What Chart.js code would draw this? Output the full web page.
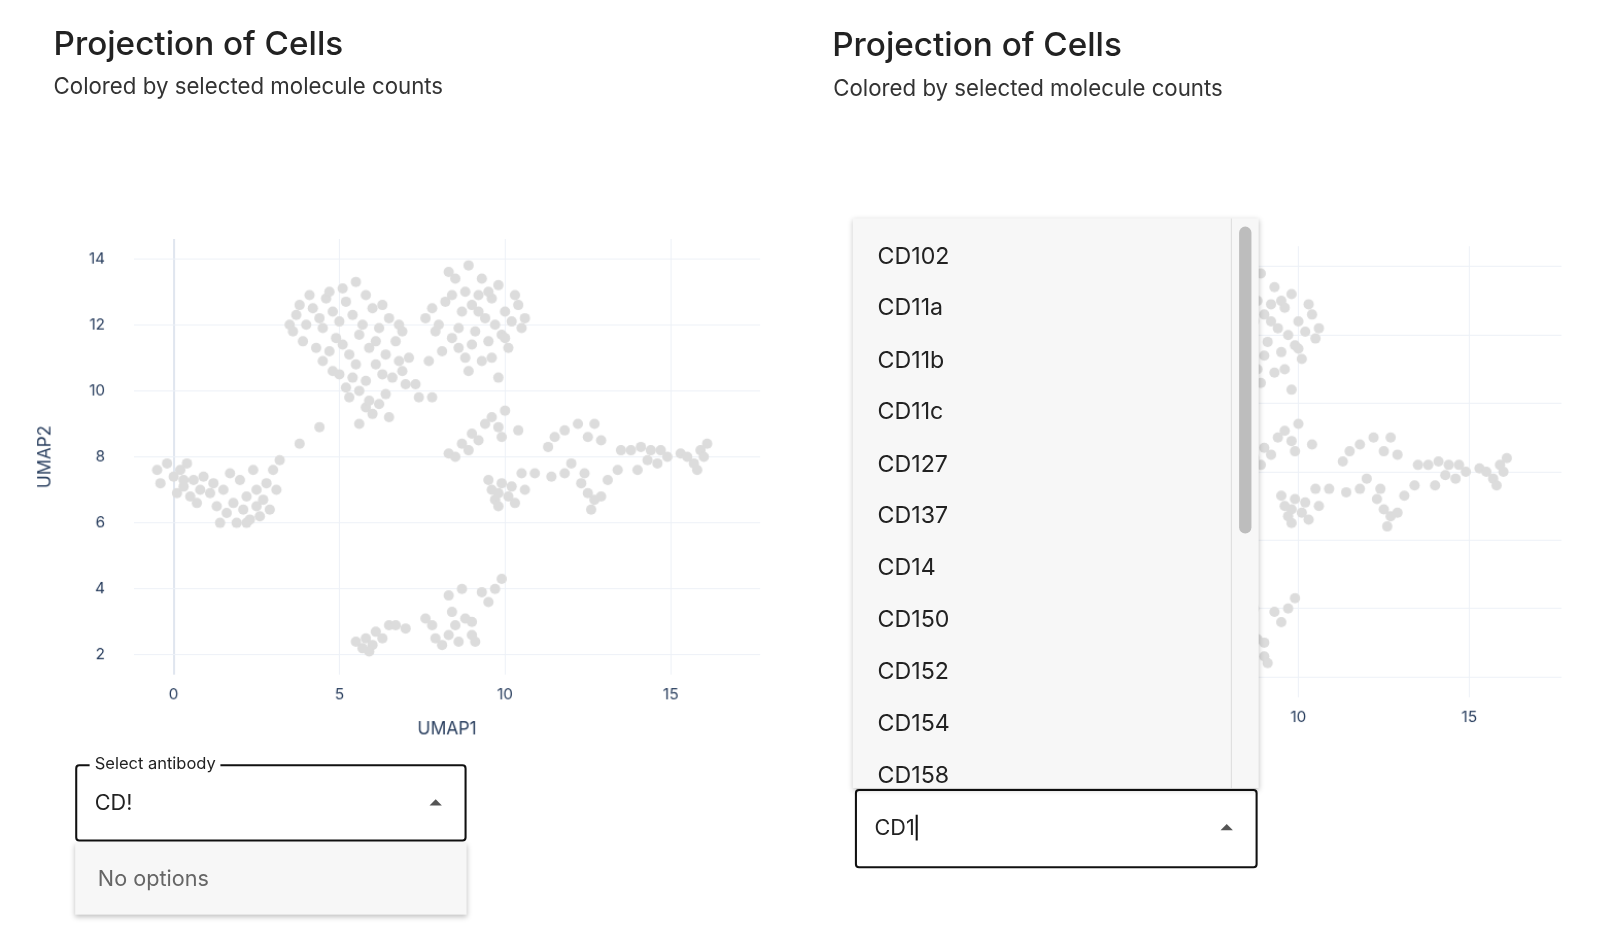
<!DOCTYPE html>
<html>
<head>
<meta charset="utf-8">
<script src="https://cdn.jsdelivr.net/npm/chart.js@4"></script>
<style>
  body { margin: 0; width: 1612px; height: 950px; background: #fff; font-family: Inter, sans-serif; overflow: hidden; }
  #page { position: relative; width: 1568px; height: 924px; transform: scale(1.03); transform-origin: 0 0; }
  .abs { position: absolute; }
  .title { font-size: 32.3px; color: #222; font-weight: 500; }
  .sub { font-size: 21.6px; color: #333; }
  .box { border: 2px solid #111; border-radius: 4px; box-sizing: border-box; background: #fff; }
  .lbl { font-size: 16px; color: #222; background: #fff; padding: 0 5px; }
  .val { font-size: 21px; color: #222; }
  .arrow { width: 0; height: 0; border-left: 6px solid transparent; border-right: 6px solid transparent; border-bottom: 6px solid #555; }
  .menu { background: #f7f7f7; box-shadow: 0 2px 5px rgba(0,0,0,0.25); }
  .item { position: absolute; left: 24px; font-size: 22.5px; color: #222; }
</style>
</head>
<body>
<div id="page">
<div class="abs title" style="left:52px;top:22px">Projection of Cells</div>
<div class="abs sub" style="left:52px;top:70px">Colored by selected molecule counts</div>
<div class="abs title" style="left:808px;top:23px">Projection of Cells</div>
<div class="abs sub" style="left:809px;top:72px">Colored by selected molecule counts</div>

<div class="abs" style="left:30px;top:195px;width:730px;height:527px"><canvas id="left"></canvas></div>
<div class="abs" style="left:790px;top:202px;width:748px;height:536px"><canvas id="right"></canvas></div>

<!-- left select -->
<div class="abs box" style="left:73px;top:742px;width:380px;height:75px"></div>
<div class="abs lbl" style="left:87px;top:731px">Select antibody</div>
<div class="abs val" style="left:92px;top:766px">CD!</div>
<div class="abs arrow" style="left:417px;top:776px"></div>
<div class="abs menu" style="left:73px;top:818px;width:380px;height:70px"></div>
<div class="abs" style="left:95px;top:840px;font-size:21px;color:#666">No options</div>

<!-- right select -->
<div class="abs box" style="left:830px;top:766px;width:391px;height:77px"></div>
<div class="abs val" style="left:849px;top:791px">CD1<span style="border-left:2px solid #111;margin-left:1px"></span></div>
<div class="abs arrow" style="left:1185px;top:800px"></div>
<div class="abs menu" id="menu" style="left:828px;top:212px;width:394px;height:553px;overflow:hidden">
  <div class="abs" style="left:367px;top:0;width:1px;height:553px;background:#ddd"></div>
  <div class="abs" style="left:375px;top:8px;width:12px;height:298px;background:#bdbdbd;border-radius:6px"></div>
</div>
</div>

<script>
const antibodyOptions = ['CD102', 'CD11a', 'CD11b', 'CD11c', 'CD127', 'CD137', 'CD14', 'CD150', 'CD152', 'CD154', 'CD158'];
const xTicks = [0, 5, 10, 15];
const yTicks = [2, 4, 6, 8, 10, 12, 14];

const umap1 = [
  3.5,3.6,3.7,3.8,3.9,4.0,4.1,4.2,4.3,4.4,4.5,4.6,4.7,4.8,4.9,5.0,5.1,5.2,5.3,5.4,5.5,5.6,5.7,5.8,5.9,6.0,6.1,6.2,6.3,6.4,6.5,6.6,6.7,6.8,6.9,7.0,
  4.5,4.8,5.0,5.2,5.4,5.6,5.8,6.0,6.2,6.4,6.5,5.6,5.9,6.3,5.3,5.1,4.7,5.5,6.8,7.1,7.3,6.9,5.8,6.1,
  7.6,7.8,8.0,8.2,8.3,8.5,8.7,8.8,8.9,9.0,9.1,9.2,9.3,9.4,9.5,9.6,9.7,9.8,9.9,10.0,10.1,10.2,10.3,10.4,10.5,10.6,
  8.4,8.6,8.8,8.6,9.0,9.3,9.6,9.8,8.1,7.9,8.9,9.2,9.5,10.0,8.4,7.7,
  -0.5,-0.4,-0.2,0,0.1,0.2,0.3,0.4,0.5,0.6,0.8,0.9,1.1,1.2,1.3,1.5,1.6,1.8,1.9,2.0,2.1,2.2,2.3,2.4,2.5,2.6,2.7,2.8,3.0,3.1,3.2,2.5,1.7,0.7,2.9,1.4,2.2,0.3,
  8.3,8.5,8.7,8.9,9.0,9.2,9.4,9.6,9.8,10.0,9.9,10.4,9.5,9.6,9.7,9.8,9.9,10.1,10.2,10.3,9.8,10.5,10.6,10.9,11.3,11.5,11.8,12.2,12.5,12.7,12.9,
  11.4,11.8,12.0,12.3,12.5,12.7,12.9,12.6,13.1,13.4,13.5,13.8,14.1,14.3,14.4,14.7,14.9,15.3,15.5,15.7,15.9,16.1,15.8,16.0,14.0,14.6,12.4,
  5.5,5.7,5.8,6.0,6.1,6.3,6.5,6.7,7.0,7.6,7.8,7.9,8.1,8.3,8.4,8.5,8.6,8.8,9.0,9.1,9.0,8.3,8.7,9.3,9.5,9.7,9.9,5.9,
  3.8,4.4,7.4,7.8,
];
const umap2 = [
  12.0,11.8,12.3,12.6,11.5,12.0,12.9,12.5,11.3,12.2,11.9,12.8,13.0,12.4,11.6,12.1,13.1,12.7,11.1,12.3,13.3,11.7,12.0,12.9,11.3,12.5,10.8,11.9,12.6,11.1,12.2,10.4,11.5,10.9,11.8,10.2,
  10.9,10.6,10.5,10.1,10.4,10.0,9.5,9.3,9.6,9.9,9.2,9.0,9.7,10.5,9.8,11.4,11.2,10.8,12.0,11.0,10.2,10.6,10.3,11.5,
  12.2,12.5,12.0,12.7,13.6,13.4,12.4,13.0,13.8,12.6,11.8,12.9,13.4,12.2,11.5,12.8,12.0,13.2,11.7,12.4,11.3,12.1,12.9,12.6,11.9,12.2,
  11.6,11.3,11.0,11.9,11.4,10.9,11.0,10.4,11.2,11.8,10.6,12.4,13.0,11.6,12.9,10.9,
  7.6,7.2,7.8,7.4,6.9,7.6,7.1,7.8,6.8,7.3,7.0,7.4,6.9,7.2,6.5,7.0,6.3,6.6,6.0,7.3,6.4,6.8,6.1,7.6,6.5,6.2,6.7,7.2,7.6,7.0,7.9,7.0,7.5,6.6,6.4,6.0,6.0,7.3,
  8.1,8.0,8.4,8.2,8.7,8.5,9.0,9.2,8.9,9.4,8.6,8.8,7.3,7.0,6.7,6.9,7.2,6.8,7.1,6.6,6.5,7.5,7.0,7.5,8.3,8.6,8.8,9.0,8.6,9.0,8.5,
  7.4,7.5,7.8,7.2,6.9,6.7,6.8,6.4,7.3,7.6,8.2,8.2,8.3,7.9,8.2,8.2,8.0,8.1,8.0,7.8,8.2,8.4,7.6,8.0,7.6,7.8,7.5,
  2.4,2.2,2.5,2.3,2.7,2.5,2.9,2.9,2.8,3.1,2.9,2.5,2.3,2.6,3.3,2.9,2.4,3.1,2.6,2.4,3.0,3.8,4.0,3.9,3.6,4.0,4.3,2.1,
  8.4,8.9,9.8,9.8,
];

const menu = document.getElementById('menu');
antibodyOptions.forEach((name, i) => {
  const el = document.createElement('div');
  el.className = 'item';
  el.style.top = (22 + i * 50.4) + 'px';
  el.textContent = name;
  menu.appendChild(el);
});

const AXIS_COLOR = '#2a3f5f';
const TICK_FONT = { family: 'Inter, sans-serif', size: 15 };

function makeChart(canvas, yWidth, xHeight, showTitles) {
  return new Chart(canvas, {
    type: 'scatter',
    data: {
      datasets: [{
        data: umap1.map((x, i) => ({ x, y: umap2[i] })),
        backgroundColor: '#dcdcdc',
        borderWidth: 0,
        pointRadius: 5,
      }],
    },
    options: {
      animation: false,
      responsive: true,
      maintainAspectRatio: false,
      layout: { padding: { top: 0, right: 22 } },
      plugins: { legend: { display: false }, tooltip: { enabled: false } },
      scales: {
        x: {
          min: -1.2, max: 17.7,
          afterBuildTicks: (s) => { s.ticks = xTicks.map((v) => ({ value: v })); },
          afterFit: (s) => { s.height = xHeight; },
          border: { display: false },
          grid: { color: (c) => (c.tick && c.tick.value === 0 ? '#e0e6ef' : '#edf1f7'), lineWidth: (c) => (c.tick && c.tick.value === 0 ? 2 : 1), drawTicks: false },
          ticks: { color: AXIS_COLOR, font: TICK_FONT, padding: 10 },
          title: { display: showTitles, text: 'UMAP1', color: AXIS_COLOR, font: { family: 'Inter, sans-serif', size: 17 }, padding: { top: 2 } },
        },
        y: {
          min: 1.4, max: 14.6,
          afterBuildTicks: (s) => { s.ticks = yTicks.map((v) => ({ value: v })); },
          afterFit: (s) => { s.width = yWidth; },
          border: { display: false },
          grid: { color: '#edf1f7', drawTicks: false },
          ticks: { color: AXIS_COLOR, font: TICK_FONT, padding: 28 },
          title: { display: showTitles, text: 'UMAP2', color: AXIS_COLOR, font: { family: 'Inter, sans-serif', size: 17 } },
        },
      },
    },
  });
}

makeChart(document.getElementById('left'), 100, 67, true);
makeChart(document.getElementById('right'), 99, 61, false);
</script>
</body>
</html>
